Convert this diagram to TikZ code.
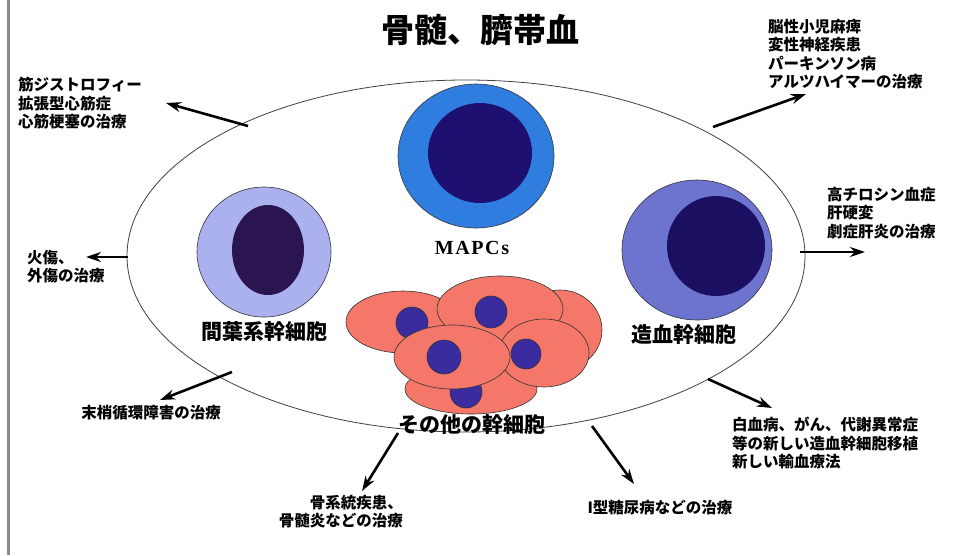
\documentclass[tikz,border=0pt]{standalone}
\usepackage{fontspec}
\usetikzlibrary{shapes.geometric,arrows.meta}
\newfontfamily\jp{Noto Sans CJK JP}[BoldFont={Noto Sans CJK JP Black}]
\newfontfamily\capsfont{Liberation Serif}

\definecolor{mapcring}{HTML}{2F7DDF}
\definecolor{mapccore}{HTML}{1D1070}
\definecolor{mesring}{HTML}{ABB0EE}
\definecolor{mescore}{HTML}{2B1550}
\definecolor{hemring}{HTML}{6C74CF}
\definecolor{hemcore}{HTML}{1B0F62}
\definecolor{cellbody}{HTML}{F4776A}
\definecolor{cellnuc}{HTML}{3A2B9E}
\definecolor{rim}{HTML}{8A8A8A}

\tikzset{
  blob/.style={ellipse, inner sep=0pt, draw=black!80, line width=0.6pt},
  note/.style={font=\jp\bfseries\fontsize{15.5}{18.5}\selectfont, inner sep=0pt, align=left},
  celltag/.style={font=\jp\bfseries\fontsize{21}{24}\selectfont, inner sep=0pt},
  cure/.style={line width=2.6pt, -{Stealth[length=15pt,width=10pt]}},
}

\begin{document}
\begin{tikzpicture}[x=1pt, y=-1pt]
\useasboundingbox (0,0) rectangle (959,555);
\fill[white] (0,0) rectangle (959,555);

% left frame rule
\draw[rim, line width=3pt] (8,0) -- (8,555);

% title
\node[font=\jp\bfseries\fontsize{33}{36}\selectfont, inner sep=0pt] (title) at (480,30) {骨髄、臍帯血};

% main ellipse
\node[ellipse, draw=black!75, line width=0.8pt, fill=white, minimum width=678pt, minimum height=352pt, inner sep=0pt] (stem) at (466,256) {};

% MAPCs
\node[blob, fill=mapcring, minimum width=156pt, minimum height=144pt] (mapc) at (476,156) {};
\node[ellipse, inner sep=0pt, fill=mapccore, minimum width=104pt, minimum height=100pt] (mapcnuc) at (480,153) {};
\node[font=\capsfont\bfseries\fontsize{20}{22}\selectfont\addfontfeature{LetterSpace=8}, inner sep=0pt] (mapctag) at (472,248) {MAPCs};

% mesenchymal stem cell
\node[blob, fill=mesring, minimum width=134pt, minimum height=130pt] (mes) at (264,252) {};
\node[ellipse, inner sep=0pt, fill=mescore, minimum width=72pt, minimum height=90pt] (mesnuc) at (268,250) {};
\node[celltag] (mestag) at (264,332) {間葉系幹細胞};

% hematopoietic stem cell
\node[blob, fill=hemring, minimum width=150pt, minimum height=140pt] (hem) at (697,250) {};
\node[ellipse, inner sep=0pt, fill=hemcore, minimum width=98pt, minimum height=100pt] (hemnuc) at (716,246) {};
\node[celltag] (hemtag) at (684,335) {造血幹細胞};

% cluster of other stem cells
\node[blob, fill=cellbody, minimum width=84pt, minimum height=80pt] (cR) at (560,330) {};
\node[blob, fill=cellbody, minimum width=114pt, minimum height=62pt] (cL) at (403,322) {};
\node[blob, fill=cellnuc, circle, minimum size=32pt] (nL) at (412,323) {};
\node[blob, fill=cellbody, minimum width=126pt, minimum height=66pt] (cT) at (500,309) {};
\node[blob, fill=cellnuc, circle, minimum size=32pt] (nT) at (491,312) {};
\node[blob, fill=cellbody, minimum width=132pt, minimum height=50pt] (cB) at (471,389) {};
\node[blob, fill=cellnuc, circle, minimum size=32pt] (nB) at (466,392) {};
\node[blob, fill=cellbody, minimum width=90pt, minimum height=68pt] (cM) at (544,353) {};
\node[blob, fill=cellnuc, circle, minimum size=30pt] (nM) at (526,354) {};
\node[blob, fill=cellbody, minimum width=116pt, minimum height=64pt] (cF) at (452,357) {};
\node[blob, fill=cellnuc, circle, minimum size=34pt] (nF) at (444,357) {};
\node[celltag] (othertag) at (472,425) {その他の幹細胞};

% treatment notes
\node[note, anchor=north west] (heart) at (18,77) {筋ジストロフィー\\拡張型心筋症\\心筋梗塞の治療};
\node[note, anchor=north west] (nerve) at (768,19) {脳性小児麻痺\\変性神経疾患\\パーキンソン病\\アルツハイマーの治療};
\node[note, anchor=north west] (liver) at (827,187) {高チロシン血症\\肝硬変\\劇症肝炎の治療};
\node[note, anchor=north west] (burn) at (27,250) {火傷、\\外傷の治療};
\node[note] (vessel) at (151,413) {末梢循環障害の治療};
\node[note, anchor=north east, align=right] (bone) at (403,495) {骨系統疾患、\\骨髄炎などの治療};
\node[note] (sugar) at (660,508) {I型糖尿病などの治療};
\node[note, anchor=north west] (blood) at (732,417) {白血病、がん、代謝異常症\\等の新しい造血幹細胞移植\\新しい輸血療法};

% arrow end points
\coordinate (s1) at (248,126); \coordinate (t1) at (166,103);
\coordinate (s2) at (713,127); \coordinate (t2) at (806,94);
\coordinate (s3) at (800,252); \coordinate (t3) at (865,252);
\coordinate (s4) at (128,257); \coordinate (t4) at (86,257);
\coordinate (s5) at (232,372); \coordinate (t5) at (160,400);
\coordinate (s6) at (398,433); \coordinate (t6) at (362,491);
\coordinate (s7) at (592,426); \coordinate (t7) at (634,484);
\coordinate (s8) at (708,379); \coordinate (t8) at (772,408);

\foreach \i in {1,...,8} \draw[cure] (s\i) -- (t\i);
\end{tikzpicture}
\end{document}
